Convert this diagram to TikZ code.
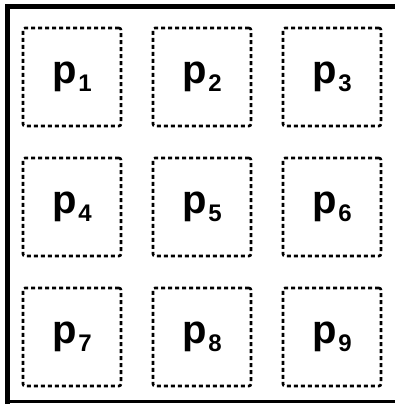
\documentclass[tikz,border=0pt]{standalone}
\usepackage{fontspec}
\setsansfont{Liberation Sans}
\usetikzlibrary{positioning}

\newcommand{\plabel}[1]{p\kern1.5pt\raisebox{-7.5pt}{\fontsize{24}{25}\selectfont #1}}

\begin{document}
\begin{tikzpicture}[
  x=1pt, y=1pt,
  node distance=32pt,
  cell/.style={rectangle, rounded corners=2pt, draw, dash pattern=on 4pt off 3pt,
               line width=2.6pt, minimum size=98pt, inner sep=0pt, outer sep=0pt,
               font=\fontsize{40}{42}\selectfont\sffamily\bfseries},
  frame/.style={line width=5pt, line join=miter},
]
  \useasboundingbox (0,0) rectangle (395,404);

  % outer frame
  \draw[frame] (395,397) -- (7,397) -- (7,0);
  \draw[line width=2.4pt] (7,2.5) -- (395,2.5);

  \node[cell] (p1) at (72,327) {\plabel{1}};
  \node[cell, right=of p1] (p2) {\plabel{2}};
  \node[cell, right=of p2] (p3) {\plabel{3}};

  \node[cell, below=of p1] (p4) {\plabel{4}};
  \node[cell, right=of p4] (p5) {\plabel{5}};
  \node[cell, right=of p5] (p6) {\plabel{6}};

  \node[cell, below=of p4] (p7) {\plabel{7}};
  \node[cell, right=of p7] (p8) {\plabel{8}};
  \node[cell, right=of p8] (p9) {\plabel{9}};
\end{tikzpicture}
\end{document}
